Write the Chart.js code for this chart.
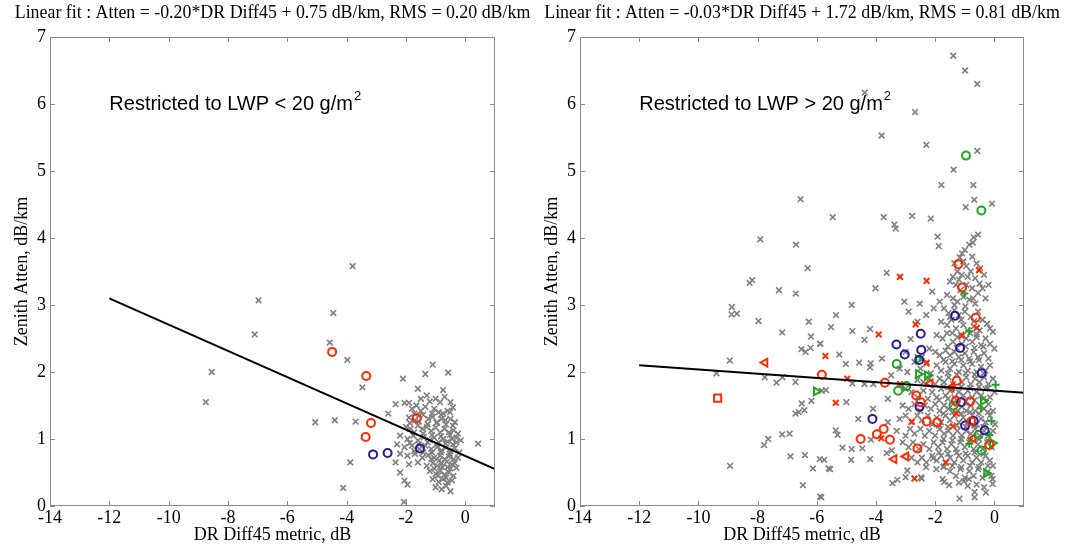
<!DOCTYPE html>
<html>
<head>
<meta charset="utf-8">
<title>DR Diff45 vs Zenith Atten</title>
<script src="https://cdn.jsdelivr.net/npm/chart.js@4.4.1/dist/chart.umd.min.js"></script>
<style>
  html, body { margin: 0; padding: 0; background: #fff; }
  #wrap { position: relative; width: 1065px; height: 544px; overflow: hidden; }
  canvas { position: absolute; top: 0; }
  #left { left: 0; }
  #right { left: 530px; }
</style>
</head>
<body>
<div id="wrap">
  <canvas id="left" width="540" height="544"></canvas>
  <canvas id="right" width="535" height="544"></canvas>
</div>
<script>
'use strict';

// Achsen
const xTicks = [-14, -12, -10, -8, -6, -4, -2, 0];
const yTicks = [0, 1, 2, 3, 4, 5, 6, 7];
const xLabel = 'DR Diff45 metric, dB';
const yLabel = 'Zenith Atten, dB/km';

// Linkes Panel: LWP < 20
const leftTitle = 'Linear fit : Atten = -0.20*DR Diff45 + 0.75 dB/km, RMS = 0.20 dB/km';
const leftNote = ['Restricted to LWP < 20 g/m', '2'];
const leftFit = [[-12, 3.1], [1, 0.55]];
const leftRedCircle = [[-4.49, 2.30], [-3.34, 1.94], [-3.18, 1.24], [-3.36, 1.03], [-1.64, 1.31]];
const leftBlueCircle = [[-3.11, 0.77], [-2.62, 0.79], [-1.53, 0.86]];
const leftGray = [
  [-8.75, 1.55], [-8.55, 2.0], [-7.10, 2.56], [-6.97, 3.07], [-4.57, 2.44], [-4.45, 2.88],
  [-5.06, 1.25], [-4.40, 1.28], [-3.80, 3.58], [-3.98, 2.18], [-3.47, 1.77], [-3.70, 1.26],
  [-3.88, 0.65], [-4.12, 0.27], [0.43, 0.93], [-2.07, 0.06],
  [-2.1, 1.9], [-1.1, 2.11], [-1.35, 1.97], [-0.58, 1.99], [-0.75, 1.73], [-0.7, 1.63],
  [-2.6, 1.38], [-2.35, 1.52], [-2.05, 1.54], [-1.9, 1.54], [-1.2, 1.56], [-0.42, 1.47],
  [-1.8, 1.45], [-1.65, 1.5], [-1.5, 1.42], [-1.35, 1.48], [-1.05, 1.45], [-0.9, 1.4], [-0.75, 1.38], [-0.6, 1.42],
  [-1.9, 1.32], [-1.7, 1.28], [-1.55, 1.35], [-1.25, 1.3], [-1.1, 1.33], [-0.95, 1.25], [-0.8, 1.3], [-0.65, 1.22],
  [-0.5, 1.3], [-0.35, 1.25], [-2.0, 1.18], [-1.85, 1.15], [-1.6, 1.2], [-1.45, 1.15], [-1.3, 1.18], [-1.15, 1.12],
  [-1.0, 1.17], [-0.85, 1.1], [-0.7, 1.15], [-0.55, 1.1], [-0.4, 1.13], [-0.25, 1.08],
  [-2.2, 1.05], [-1.95, 1.0], [-1.75, 1.05], [-1.6, 0.98], [-1.4, 1.03], [-1.2, 0.98], [-1.05, 1.02], [-0.9, 0.95],
  [-0.75, 1.0], [-0.6, 0.96], [-0.45, 1.0], [-0.3, 0.95], [-0.15, 0.98],
  [-2.3, 0.92], [-2.05, 0.88], [-1.8, 0.9], [-1.55, 0.85], [-1.35, 0.9], [-1.15, 0.85], [-0.95, 0.88], [-0.8, 0.83],
  [-0.65, 0.87], [-0.5, 0.82], [-0.35, 0.86], [-0.2, 0.8],
  [-2.2, 0.78], [-1.95, 0.75], [-1.7, 0.78], [-1.45, 0.72], [-1.25, 0.76], [-1.05, 0.72], [-0.85, 0.75], [-0.7, 0.7],
  [-0.55, 0.74], [-0.4, 0.7], [-0.25, 0.72],
  [-2.35, 0.65], [-1.9, 0.62], [-1.6, 0.65], [-1.3, 0.6], [-1.1, 0.64], [-0.95, 0.6], [-0.8, 0.63], [-0.6, 0.58],
  [-0.45, 0.62], [-0.3, 0.57],
  [-2.2, 0.5], [-1.2, 0.52], [-1.0, 0.48], [-0.85, 0.52], [-0.7, 0.47], [-0.55, 0.5], [-0.4, 0.45],
  [-2.05, 0.38], [-1.1, 0.4], [-0.9, 0.36], [-0.75, 0.4], [-0.6, 0.35], [-0.45, 0.38],
  [-1.95, 0.32], [-1.0, 0.28], [-0.8, 0.25], [-0.65, 0.3], [-0.5, 0.22],
  [-1.5, 1.6], [-1.3, 1.65], [-1.0, 1.6], [-0.85, 1.55], [-1.6, 1.75], [-0.5, 1.55],
  [-1.72, 1.38], [-1.42, 1.36], [-1.12, 1.38], [-0.82, 1.36], [-0.52, 1.4],
  [-1.87, 1.24], [-1.57, 1.26], [-1.27, 1.22], [-0.97, 1.24], [-0.67, 1.28], [-0.42, 1.2],
  [-1.72, 1.1], [-1.42, 1.08], [-1.12, 1.06], [-0.82, 1.04], [-0.52, 1.06], [-0.3, 1.02],
  [-1.87, 0.94], [-1.57, 0.92], [-1.27, 0.95], [-0.97, 0.92], [-0.67, 0.93], [-0.42, 0.92],
  [-1.72, 0.82], [-1.42, 0.8], [-1.12, 0.8], [-0.82, 0.8], [-0.52, 0.78],
  [-1.15, 0.7], [-0.88, 0.68], [-0.62, 0.66], [-0.35, 0.64],
  [-1.05, 0.56], [-0.78, 0.58], [-0.5, 0.56], [-0.92, 0.45], [-0.65, 0.42]
];

// Rechtes Panel: LWP > 20
const rightTitle = 'Linear fit : Atten = -0.03*DR Diff45 + 1.72 dB/km, RMS = 0.81 dB/km';
const rightNote = ['Restricted to LWP > 20 g/m', '2'];
const rightFit = [[-12, 2.1], [1, 1.69]];
const rightRedCircle = [
  [-5.83, 1.96], [-1.22, 3.61], [-1.09, 3.26], [-0.63, 2.81], [-3.70, 1.84], [-1.27, 1.87], [-2.64, 1.65],
  [-2.49, 1.55], [-0.82, 1.56], [-1.30, 1.57], [-2.29, 1.26], [-1.93, 1.25], [-3.74, 1.15], [-3.97, 1.07],
  [-3.53, 0.99], [-4.52, 1.00], [-2.60, 0.86], [-0.78, 1.26], [-0.17, 0.91]
];
const rightBlueCircle = [
  [-1.33, 2.84], [-2.49, 2.57], [-3.31, 2.41], [-3.03, 2.26], [-2.47, 2.33], [-1.16, 2.36], [-2.54, 2.18],
  [-0.43, 1.98], [-2.53, 1.48], [-1.12, 1.55], [-4.12, 1.30], [-0.99, 1.20], [-0.70, 1.27], [-0.33, 1.13]
];
const rightGreenCircle = [[-0.96, 5.23], [-0.44, 4.41], [-3.30, 2.12], [-3.25, 1.72], [-2.98, 1.79], [-1.38, 1.50], [-0.54, 1.06], [-0.43, 0.83]];
const rightGreenTriangle = [[-6.02, 1.71], [-2.58, 2.19], [-2.57, 1.97], [-2.27, 1.95], [-0.38, 1.57], [-0.07, 0.94], [-0.27, 0.49]];
const rightGreenPlus = [[-1.01, 3.17], [-0.85, 2.61], [0.04, 1.81], [-0.45, 1.46], [-0.10, 1.27], [-0.85, 0.93], [-0.17, 1.06]];
const rightRedCross = [
  [-5.71, 2.24], [-3.19, 3.42], [-2.29, 3.36], [-0.52, 3.52], [-2.66, 2.71], [-3.91, 2.56], [-1.10, 2.54],
  [-0.60, 2.66], [-4.97, 1.90], [-5.36, 1.54], [-3.19, 1.82], [-2.29, 2.14], [-1.29, 1.38], [-2.79, 1.26],
  [-1.40, 1.19], [-3.82, 1.01], [-1.64, 0.65], [-2.70, 0.41]
];
const rightRedTriangle = [[-7.75, 2.14], [-3.39, 0.70], [-2.99, 0.74], [-2.17, 1.83], [-1.46, 1.77], [-0.72, 1.01]];
const rightRedSquare = [[-9.35, 1.61]];
const rightGray = [
  [-6.55, 4.58], [-7.91, 3.98], [-6.70, 3.90], [-6.31, 3.55], [-8.27, 3.33], [-8.18, 3.37], [-7.28, 3.22],
  [-6.71, 3.17], [-8.87, 2.97], [-8.88, 2.86], [-8.70, 2.87], [-7.97, 2.76], [-6.27, 2.75], [-7.17, 2.59],
  [-6.20, 2.53], [-6.52, 2.34], [-6.38, 2.30], [-6.21, 2.36], [-5.88, 2.42], [-8.94, 2.17], [-9.39, 1.98],
  [-7.76, 1.92], [-7.36, 1.84], [-7.16, 1.92], [-6.72, 1.85], [-5.69, 1.73], [-6.51, 1.53], [-6.18, 1.57],
  [-6.72, 1.38], [-6.61, 1.40], [-6.42, 1.43], [-7.64, 1.00], [-7.78, 0.91], [-7.17, 1.07], [-6.92, 1.08],
  [-6.89, 0.74], [-6.40, 0.76], [-6.13, 0.56], [-5.90, 0.70], [-8.93, 0.60], [-6.47, 0.31], [-5.85, 0.13], [-5.60, 0.56],
  [-1.39, 6.72], [-0.99, 6.50], [-0.58, 6.30], [-4.38, 6.17], [-2.68, 5.88], [-3.81, 5.53], [-2.30, 5.39],
  [-0.58, 5.30], [-1.38, 5.02], [-1.79, 4.79], [-0.71, 4.79], [-0.68, 4.57], [-0.97, 4.46], [-0.08, 4.51],
  [-5.46, 4.31], [-3.74, 4.31], [-3.38, 4.20], [-3.33, 4.14], [-2.78, 4.33], [-2.15, 4.29],
  [-1.92, 4.02], [-1.88, 3.88], [-0.7, 4.01], [-0.73, 3.93], [-0.85, 3.9], [-1.0, 3.82], [-0.55, 4.05], [-1.09, 3.77], [-1.17, 3.71],
  [-1.35, 3.62], [-0.95, 3.58], [-0.6, 3.62], [-0.48, 3.55], [-1.25, 3.5], [-1.1, 3.45], [-0.8, 3.5], [-0.35, 3.45],
  [-1.4, 3.42], [-0.65, 3.4], [-3.64, 3.48], [-0.4, 3.25],
  [-1.5, 3.35], [-1.3, 3.3], [-1.15, 3.22], [-0.95, 3.3], [-0.75, 3.25], [-0.55, 3.18], [-1.6, 3.15], [-1.4, 3.1],
  [-1.25, 3.05], [-1.05, 3.12], [-0.85, 3.08], [-0.65, 3.02], [-0.3, 3.1], [-2.52, 3.02], [-3.04, 3.05], [-4.02, 3.25],
  [-2.1, 3.2], [-1.85, 3.05], [-0.2, 3.3],
  [-1.7, 2.95], [-1.55, 2.88], [-1.35, 2.92], [-1.2, 2.85], [-1.0, 2.9], [-0.8, 2.82], [-0.55, 2.9], [-0.4, 2.78],
  [-0.25, 2.72], [-1.8, 2.75], [-1.6, 2.7], [-1.45, 2.78], [-1.3, 2.65], [-1.05, 2.7], [-0.9, 2.62], [-0.7, 2.68],
  [-0.5, 2.62], [-0.15, 2.65], [-2.3, 2.85], [-2.05, 2.95], [-2.6, 2.75], [-4.82, 3.0], [-5.35, 2.85], [-5.52, 2.67],
  [-4.8, 2.61], [-4.2, 2.64], [-2.9, 2.9], [-0.05, 2.6],
  [-1.95, 2.55], [-1.75, 2.5], [-1.6, 2.58], [-1.4, 2.45], [-1.25, 2.52], [-1.1, 2.42], [-0.95, 2.5], [-0.75, 2.45],
  [-0.6, 2.52], [-0.45, 2.4], [-0.3, 2.5], [-0.15, 2.42], [-2.2, 2.35], [-2.0, 2.3], [-1.85, 2.25], [-1.65, 2.32],
  [-1.5, 2.25], [-1.35, 2.3], [-1.2, 2.22], [-1.0, 2.28], [-0.85, 2.2], [-0.7, 2.3], [-0.55, 2.22], [-0.35, 2.28],
  [-0.2, 2.2], [-2.83, 2.49], [-4.39, 2.48], [-5.89, 2.42], [-5.24, 2.26], [-2.45, 2.22], [-3.0, 2.3], [0.0, 2.35],
  [-5.02, 2.12], [-4.57, 2.14], [-4.18, 2.13], [-4.2, 2.07], [-3.49, 1.95], [-2.94, 2.0], [-4.8, 1.83], [-4.39, 1.82],
  [-4.09, 1.82], [-2.7, 2.15], [-2.5, 2.05], [-2.3, 2.12], [-2.15, 1.98], [-1.95, 2.1], [-1.8, 2.02], [-1.65, 2.15],
  [-1.5, 2.05], [-1.35, 2.12], [-1.2, 2.0], [-1.05, 2.1], [-0.9, 2.02], [-0.75, 2.12], [-0.6, 2.0], [-0.45, 2.08],
  [-0.3, 2.02], [-0.15, 2.1], [-2.6, 1.88], [-2.4, 1.85], [-2.2, 1.9], [-2.0, 1.82], [-1.85, 1.9], [-1.7, 1.85],
  [-1.55, 1.92], [-1.4, 1.82], [-1.1, 1.85], [-0.95, 1.92], [-0.8, 1.82], [-0.65, 1.9], [-0.5, 1.85], [-0.35, 1.92],
  [-0.2, 1.82], [-0.05, 1.9], [-3.2, 2.05], [-3.8, 2.2], [-5.83, 1.72],
  [-3.0, 1.75], [-2.8, 1.7], [-2.6, 1.62], [-2.4, 1.72], [-2.25, 1.6], [-2.1, 1.7], [-1.95, 1.62], [-1.8, 1.75],
  [-1.65, 1.65], [-1.5, 1.72], [-1.35, 1.62], [-1.2, 1.7], [-1.05, 1.65], [-0.9, 1.72], [-0.75, 1.62], [-0.6, 1.7],
  [-0.45, 1.65], [-0.3, 1.75], [-0.15, 1.62], [0.0, 1.7], [-3.1, 1.5], [-2.9, 1.45], [-2.7, 1.52], [-2.5, 1.42],
  [-2.35, 1.5], [-2.15, 1.45], [-2.0, 1.52], [-1.85, 1.42], [-1.7, 1.5], [-1.55, 1.45], [-1.4, 1.52], [-1.25, 1.42],
  [-1.1, 1.48], [-0.95, 1.42], [-0.8, 1.5], [-0.65, 1.42], [-0.5, 1.5], [-0.35, 1.45], [-0.2, 1.52], [-0.05, 1.42],
  [-3.6, 1.6], [-4.1, 1.45], [-5.0, 1.55],
  [-3.2, 1.3], [-3.0, 1.35], [-2.8, 1.25], [-2.6, 1.35], [-2.45, 1.28], [-2.25, 1.35], [-2.1, 1.22], [-1.95, 1.32],
  [-1.8, 1.25], [-1.65, 1.35], [-1.5, 1.28], [-1.35, 1.35], [-1.2, 1.25], [-1.05, 1.32], [-0.9, 1.25], [-0.75, 1.35],
  [-0.6, 1.22], [-0.45, 1.3], [-0.3, 1.25], [-0.15, 1.35], [0.02, 1.22], [-3.3, 1.12], [-3.0, 1.05], [-2.85, 1.15],
  [-2.7, 1.08], [-2.5, 1.15], [-2.35, 1.05], [-2.2, 1.12], [-2.0, 1.05], [-1.85, 1.15], [-1.7, 1.08], [-1.55, 1.12],
  [-1.4, 1.05], [-1.25, 1.12], [-1.1, 1.05], [-0.95, 1.12], [-0.8, 1.08], [-0.65, 1.15], [-0.5, 1.05], [-0.35, 1.12],
  [-0.2, 1.05], [-0.05, 1.12], [-5.36, 1.13], [-5.3, 1.06], [-4.17, 0.99], [-3.6, 1.25], [-4.6, 1.3],
  [-5.13, 0.87], [-4.82, 0.85], [-4.84, 0.69], [-4.46, 0.86], [-4.2, 0.7], [-3.64, 0.79], [-3.47, 0.83], [-5.75, 0.69],
  [-3.1, 0.95], [-2.9, 0.88], [-2.75, 0.95], [-2.55, 0.85], [-2.4, 0.92], [-2.2, 0.85], [-2.05, 0.95], [-1.9, 0.88],
  [-1.75, 0.95], [-1.6, 0.85], [-1.45, 0.92], [-1.3, 0.85], [-1.15, 0.95], [-1.0, 0.88], [-0.85, 0.95], [-0.7, 0.85],
  [-0.55, 0.92], [-0.4, 0.85], [-0.25, 0.95], [-0.1, 0.88], [-2.8, 0.72], [-2.6, 0.65], [-2.45, 0.72], [-2.3, 0.65],
  [-2.1, 0.75], [-1.95, 0.68], [-1.8, 0.75], [-1.65, 0.65], [-1.5, 0.72], [-1.35, 0.65], [-1.2, 0.75], [-1.05, 0.68],
  [-0.9, 0.75], [-0.75, 0.65], [-0.6, 0.72], [-0.45, 0.65], [-0.3, 0.75], [-0.15, 0.68], [-2.07, 0.71], [-1.71, 0.59],
  [-5.55, 0.55], [-2.94, 0.53], [-2.48, 0.43], [-2.31, 0.58], [-1.96, 0.55], [-3.44, 0.34], [-3.28, 0.39], [-1.5, 0.52],
  [-1.3, 0.45], [-1.15, 0.55], [-1.0, 0.42], [-0.85, 0.52], [-0.7, 0.45], [-0.55, 0.55], [-0.4, 0.42], [-0.25, 0.5],
  [-0.1, 0.45], [-1.2, 0.35], [-0.9, 0.3], [-0.6, 0.32], [-0.35, 0.28], [-1.75, 0.4], [-0.05, 0.6],
  [-5.89, 0.14], [-1.18, 0.11], [-0.67, 0.21], [-0.67, 0.13], [-0.29, 0.20], [-0.06, 0.40], [-0.06, 0.33],
  [-1.03, 0.37], [-0.86, 0.40], [-2.46, 0.41], [-1.70, 0.36], [-1.53, 0.31], [-3.0, 0.43],
  [-1.72, 0.58], [-1.42, 0.6], [-1.12, 0.58], [-0.82, 0.6], [-0.52, 0.58], [-0.22, 0.6],
  [-1.87, 0.8], [-1.57, 0.78], [-1.27, 0.8], [-0.97, 0.78], [-0.67, 0.8], [-0.37, 0.78],
  [-1.72, 1.0], [-1.42, 0.98], [-1.12, 1.0], [-0.82, 0.98], [-0.52, 1.0], [-0.22, 0.98],
  [-1.87, 1.2], [-1.57, 1.18], [-1.27, 1.2], [-0.97, 1.18], [-0.67, 1.2], [-0.37, 1.18],
  [-1.72, 1.38], [-1.42, 1.4], [-1.12, 1.38], [-0.82, 1.4], [-0.52, 1.38], [-0.22, 1.4],
  [-1.87, 1.58], [-1.57, 1.6], [-1.27, 1.58], [-0.97, 1.56], [-0.67, 1.58], [-0.37, 1.6],
  [-1.72, 1.78], [-1.42, 1.76], [-1.12, 1.78], [-0.82, 1.76], [-0.52, 1.78], [-0.22, 1.76],
  [-1.57, 1.98], [-1.27, 1.96], [-0.97, 1.98], [-0.67, 1.96], [-0.37, 1.98],
  [-1.72, 2.18], [-1.42, 2.16], [-1.12, 2.18], [-0.82, 2.16], [-0.52, 2.18],
  [-1.57, 2.38], [-1.27, 2.36], [-0.97, 2.38], [-0.67, 2.36], [-0.37, 2.38],
  [-1.42, 2.58], [-1.12, 2.56], [-0.82, 2.58], [-0.6, 2.56],
  [-1.5, 2.82], [-1.12, 2.78], [-0.68, 2.76],
  [-1.35, 3.0], [-0.98, 2.98], [-0.72, 3.1],
  [-1.2, 3.38], [-0.9, 3.42], [-0.5, 3.32],
  [-1.05, 3.65], [-0.75, 3.72]
];

const GRAY = '#7f7f7f';
const RED = '#ff2a00';
const BLUE = '#2c1b96';
const GREEN = '#1fa51f';
const SERIF = '"Liberation Serif", "Times New Roman", serif';
const SANS = '"Liberation Sans", Arial, sans-serif';
const TITLE_WIDTH = 516; // Breite der Überschrift im Original (px)

function pts(arr) {
  return arr.map(([x, y]) => ({ x, y }));
}

function markers(arr, style, color, radius, width, rotation = 0) {
  return {
    data: pts(arr),
    showLine: false,
    pointStyle: style,
    pointRadius: radius,
    pointHoverRadius: radius,
    pointBorderColor: color,
    pointBackgroundColor: 'rgba(0,0,0,0)',
    pointBorderWidth: width,
    pointRotation: rotation,
    borderColor: color,
  };
}

function fitLine(arr) {
  return {
    data: pts(arr),
    showLine: true,
    borderColor: '#000',
    borderWidth: 2,
    pointRadius: 0,
    fill: false,
  };
}

// Rahmen mit Innen-Ticks (Matlab-Stil), Überschrift und Beschriftung im Plot
function framePlugin(title, note) {
  return {
    id: 'frame',
    afterDatasetsDraw(chart) {
      const { ctx, chartArea: a, scales } = chart;
      ctx.save();
      ctx.strokeStyle = '#8a8a8a';
      ctx.lineWidth = 1;
      ctx.strokeRect(a.left + 0.5, a.top + 0.5, a.right - a.left - 1, a.bottom - a.top - 1);
      ctx.beginPath();
      xTicks.forEach(v => {
        const px = Math.round(scales.x.getPixelForValue(v)) + 0.5;
        ctx.moveTo(px, a.bottom); ctx.lineTo(px, a.bottom - 5);
        ctx.moveTo(px, a.top); ctx.lineTo(px, a.top + 5);
      });
      yTicks.forEach(v => {
        const py = Math.round(scales.y.getPixelForValue(v)) + 0.5;
        ctx.moveTo(a.left, py); ctx.lineTo(a.left + 5, py);
        ctx.moveTo(a.right, py); ctx.lineTo(a.right - 5, py);
      });
      ctx.stroke();

      // Überschrift über der Achsenmitte
      ctx.fillStyle = '#000';
      ctx.textBaseline = 'middle';
      ctx.textAlign = 'center';
      ctx.font = '20px ' + SERIF;
      const size = 20 * TITLE_WIDTH / ctx.measureText(title).width;
      ctx.font = size.toFixed(2) + 'px ' + SERIF;
      ctx.fillText(title, (a.left + a.right) / 2, 13);

      const nx = scales.x.getPixelForValue(-12);
      const ny = scales.y.getPixelForValue(6.0);
      ctx.textAlign = 'left';
      ctx.font = '20px ' + SANS;
      ctx.fillText(note[0], nx, ny);
      const w = ctx.measureText(note[0]).width;
      ctx.font = '13px ' + SANS;
      ctx.fillText(note[1], nx + w + 1, ny - 8);
      ctx.restore();
    },
  };
}

function makeChart(id, title, note, datasets, rightPad) {
  return new Chart(document.getElementById(id), {
    type: 'scatter',
    data: { datasets },
    options: {
      responsive: false,
      animation: false,
      events: [],
      layout: { padding: { left: 0, right: rightPad, top: 37, bottom: 0 } },
      plugins: {
        legend: { display: false },
        tooltip: { enabled: false },
        title: { display: false },
      },
      scales: {
        x: {
          type: 'linear',
          min: -14,
          max: 1,
          afterBuildTicks: s => { s.ticks = xTicks.map(v => ({ value: v })); },
          afterFit: s => { s.height = 38; },
          grid: { display: false, drawTicks: false },
          border: { display: false },
          ticks: { color: '#000', padding: 1, maxRotation: 0, autoSkip: false, font: { family: SERIF, size: 18 } },
          title: { display: true, text: xLabel, color: '#000', padding: { top: 0, bottom: 0 }, font: { family: SERIF, size: 18, lineHeight: 1 } },
        },
        y: {
          type: 'linear',
          min: 0,
          max: 7,
          afterBuildTicks: s => { s.ticks = yTicks.map(v => ({ value: v })); },
          afterFit: s => { s.width = 50; },
          grid: { display: false, drawTicks: false },
          border: { display: false },
          ticks: { color: '#000', padding: 4, autoSkip: false, font: { family: SERIF, size: 18 } },
          title: { display: true, text: yLabel, color: '#000', padding: { top: 11, bottom: 0 }, font: { family: SERIF, size: 18, lineHeight: 1.2 } },
        },
      },
    },
    plugins: [framePlugin(title, note)],
  });
}

// Reihenfolge: erster Datensatz liegt oben
makeChart('left', leftTitle, leftNote, [
  fitLine(leftFit),
  markers(leftRedCircle, 'circle', RED, 4, 2),
  markers(leftBlueCircle, 'circle', BLUE, 4, 2),
  markers(leftGray, 'crossRot', GRAY, 4, 1.6),
], 45);

makeChart('right', rightTitle, rightNote, [
  fitLine(rightFit),
  markers(rightRedCircle, 'circle', RED, 4, 2),
  markers(rightBlueCircle, 'circle', BLUE, 4, 2),
  markers(rightGreenCircle, 'circle', GREEN, 4, 2),
  markers(rightGreenTriangle, 'triangle', GREEN, 4.5, 2, 90),
  markers(rightRedTriangle, 'triangle', RED, 4.5, 2, -90),
  markers(rightRedSquare, 'rect', RED, 5, 2),
  markers(rightGreenPlus, 'cross', GREEN, 4, 2),
  markers(rightRedCross, 'crossRot', RED, 4, 2),
  markers(rightGray, 'crossRot', GRAY, 4, 1.6),
], 41);
</script>
</body>
</html>
